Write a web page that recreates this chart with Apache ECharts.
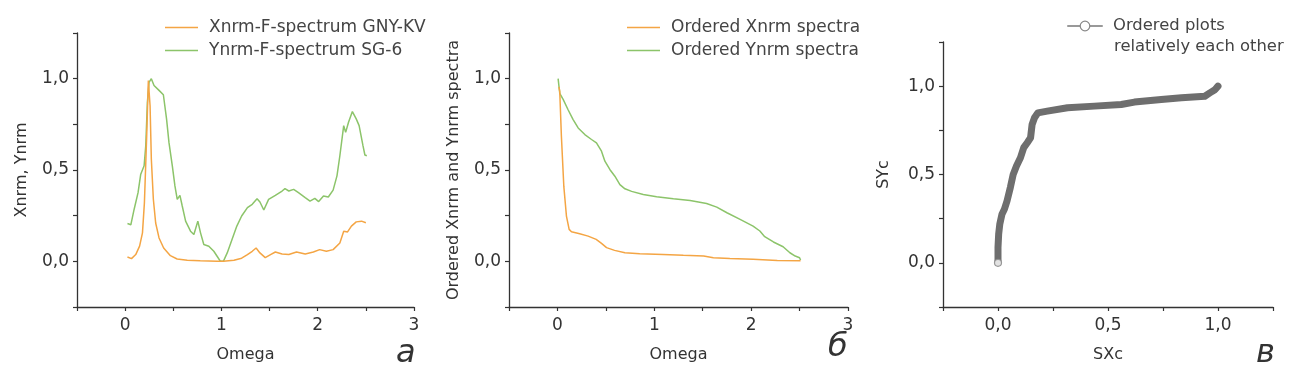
<!DOCTYPE html>
<html><head><meta charset="utf-8">
<script src="https://cdn.jsdelivr.net/npm/echarts@6/dist/echarts.min.js"></script>
<style>html,body{margin:0;padding:0;background:#fff}#c{width:1300px;height:384px}</style>
</head><body><div id="c"></div>
<script>
// Panel a: raw spectra (Omega, value)
const xnrmRaw = [[0.024,0.024],[0.066,0.015],[0.11,0.037],[0.15,0.083],[0.18,0.156],[0.20,0.32],[0.224,0.69],[0.241,0.99],[0.252,1.0],[0.259,0.85],[0.272,0.56],[0.293,0.34],[0.317,0.21],[0.352,0.128],[0.40,0.073],[0.47,0.031],[0.54,0.013],[0.645,0.006],[0.78,0.003],[0.955,0.0],[1.02,0.0],[1.13,0.006],[1.21,0.017],[1.27,0.037],[1.32,0.055],[1.36,0.073],[1.40,0.046],[1.455,0.02],[1.51,0.037],[1.56,0.051],[1.63,0.04],[1.70,0.037],[1.78,0.051],[1.87,0.04],[1.955,0.051],[2.02,0.064],[2.09,0.055],[2.16,0.064],[2.23,0.10],[2.27,0.165],[2.31,0.161],[2.35,0.193],[2.40,0.216],[2.455,0.22],[2.50,0.211]];
const ynrmRaw = [[0.024,0.207],[0.059,0.20],[0.093,0.284],[0.134,0.376],[0.162,0.477],[0.197,0.523],[0.214,0.633],[0.231,0.87],[0.248,0.98],[0.272,1.0],[0.30,0.963],[0.352,0.936],[0.397,0.912],[0.43,0.78],[0.455,0.651],[0.49,0.523],[0.517,0.413],[0.541,0.339],[0.569,0.361],[0.593,0.303],[0.628,0.22],[0.679,0.165],[0.714,0.147],[0.755,0.22],[0.783,0.156],[0.817,0.092],[0.869,0.083],[0.921,0.055],[0.955,0.028],[0.99,0.0],[1.02,0.0],[1.06,0.046],[1.11,0.119],[1.16,0.193],[1.21,0.248],[1.27,0.294],[1.32,0.312],[1.37,0.343],[1.40,0.325],[1.44,0.281],[1.49,0.339],[1.56,0.361],[1.63,0.385],[1.66,0.398],[1.70,0.385],[1.75,0.394],[1.80,0.376],[1.87,0.349],[1.92,0.33],[1.97,0.345],[2.01,0.327],[2.06,0.358],[2.11,0.352],[2.16,0.39],[2.20,0.468],[2.23,0.578],[2.27,0.743],[2.29,0.706],[2.32,0.761],[2.36,0.82],[2.40,0.78],[2.43,0.743],[2.47,0.633],[2.49,0.582],[2.51,0.578]];
// Panel б: ordered spectra
const xnrmOrdered = [[0.016,0.955],[0.024,0.93],[0.041,0.685],[0.066,0.41],[0.093,0.248],[0.121,0.175],[0.145,0.162],[0.23,0.151],[0.317,0.138],[0.40,0.12],[0.455,0.098],[0.507,0.075],[0.59,0.06],[0.697,0.047],[0.85,0.042],[1.09,0.038],[1.30,0.033],[1.51,0.029],[1.61,0.02],[1.78,0.015],[2.02,0.011],[2.27,0.005],[2.51,0.003]];
const ynrmOrdered = [[0.007,1.0],[0.024,0.92],[0.059,0.887],[0.11,0.83],[0.162,0.776],[0.214,0.73],[0.283,0.694],[0.352,0.667],[0.403,0.648],[0.455,0.603],[0.49,0.548],[0.541,0.503],[0.593,0.466],[0.645,0.42],[0.697,0.397],[0.766,0.383],[0.886,0.366],[1.024,0.353],[1.197,0.342],[1.37,0.333],[1.54,0.317],[1.645,0.297],[1.75,0.266],[1.886,0.23],[2.02,0.193],[2.09,0.166],[2.14,0.135],[2.23,0.106],[2.33,0.08],[2.40,0.047],[2.455,0.029],[2.50,0.02],[2.51,0.007]];
// Panel в: ordered plots relative to each other (SXc, SYc)
const sxsy = [[0,0],[0,0.087],[0.003,0.162],[0.008,0.218],[0.018,0.275],[0.029,0.303],[0.041,0.35],[0.056,0.426],[0.069,0.50],[0.084,0.548],[0.102,0.595],[0.117,0.652],[0.133,0.68],[0.148,0.708],[0.155,0.783],[0.166,0.821],[0.181,0.849],[0.224,0.859],[0.316,0.878],[0.438,0.887],[0.56,0.896],[0.62,0.91],[0.742,0.924],[0.834,0.934],[0.94,0.943],[0.963,0.962],[0.986,0.98],[1.0,1.0]];
const omegaTicks = [0,1,2,3];
const valueTicks = [0,0.5,1];
const panelLetters = ['а','б','в'];
const legendLine2 = 'relatively each other';

const FONT = 'DejaVu Sans';
const AX = '#333';
const ORANGE = '#f4a544';
const GREEN = '#8cc46a';
const GREY = '#6e6e6e';

function fmtVal(v){
  for (const t of valueTicks) if (Math.abs(v-t)<1e-9) return t.toFixed(1).replace('.',',');
  return '';
}
function fmtOmega(v){
  for (const t of omegaTicks) if (Math.abs(v-t)<1e-9) return String(t);
  return '';
}
function axisBase(){
  return {
    axisLine:{show:true,onZero:false,lineStyle:{color:AX,width:1.3}},
    axisTick:{show:true,length:4,lineStyle:{color:AX,width:1.2}},
    splitLine:{show:false},
    nameTextStyle:{color:'#333',fontFamily:FONT,fontSize:16},
    nameLocation:'middle'
  };
}
const lbl = (fmt,margin)=>({color:'#333',fontFamily:FONT,fontSize:17,margin:margin,formatter:fmt});
function xOmega(gi){
  return Object.assign(axisBase(),{type:'value',gridIndex:gi,min:-0.5,max:3,interval:0.5,name:'Omega',nameGap:40,
    axisLabel:lbl(fmtOmega,10)});
}
function yVal(gi,name,gap){
  return Object.assign(axisBase(),{type:'value',gridIndex:gi,min:-0.25,max:1.25,interval:0.25,name:name,nameGap:gap,
    axisLabel:lbl(fmtVal,8)});
}
const chart = echarts.init(document.getElementById('c'),null,{renderer:'canvas'});
const legendText = {color:'#444',fontFamily:FONT,fontSize:17,padding:[0,0,0,6]};
const legendText3 = {color:'#444',fontFamily:FONT,fontSize:16.4,padding:[0,0,0,6]};
chart.setOption({
  animation:false,
  backgroundColor:'#fff',
  grid:[
    {left:77,width:337,top:33,height:274},
    {left:509,width:339,top:33,height:274},
    {left:943,width:330,top:42,height:265}
  ],
  xAxis:[
    xOmega(0), xOmega(1),
    Object.assign(axisBase(),{type:'value',gridIndex:2,min:-0.25,max:1.25,interval:0.25,name:'SXc',nameGap:40,
      axisLabel:lbl(fmtVal,10)})
  ],
  yAxis:[
    yVal(0,'Xnrm, Ynrm',47),
    yVal(1,'Ordered Xnrm and Ynrm spectra',47),
    yVal(2,'SYc',51)
  ],
  legend:[
    {orient:'vertical',left:160,top:14,icon:'rect',itemWidth:33,itemHeight:1.6,itemGap:6,textStyle:legendText,
      data:['Xnrm-F-spectrum GNY-KV','Ynrm-F-spectrum SG-6']},
    {orient:'vertical',left:622,top:14,icon:'rect',itemWidth:33,itemHeight:1.6,itemGap:6,textStyle:legendText,
      data:['Ordered Xnrm spectra','Ordered Ynrm spectra']},
    {orient:'vertical',left:1062,top:13,itemWidth:34,itemHeight:12,itemGap:10,textStyle:legendText3,
      lineStyle:{width:2,color:'#999'},itemStyle:{color:'#fff',borderColor:'#888',borderWidth:1.2},
      formatter:function(n){return 'Ordered plots';},
      data:['Ordered plots relatively each other']}
  ],
  series:[
    {name:'Xnrm-F-spectrum GNY-KV',type:'line',xAxisIndex:0,yAxisIndex:0,data:xnrmRaw,symbol:'none',color:ORANGE,lineStyle:{width:1.5,color:ORANGE},z:3},
    {name:'Ynrm-F-spectrum SG-6',type:'line',xAxisIndex:0,yAxisIndex:0,data:ynrmRaw,symbol:'none',color:GREEN,lineStyle:{width:1.5,color:GREEN},z:2},
    {name:'Ordered Xnrm spectra',type:'line',xAxisIndex:1,yAxisIndex:1,data:xnrmOrdered,symbol:'none',color:ORANGE,lineStyle:{width:1.5,color:ORANGE},z:3},
    {name:'Ordered Ynrm spectra',type:'line',xAxisIndex:1,yAxisIndex:1,data:ynrmOrdered,symbol:'none',color:GREEN,lineStyle:{width:1.5,color:GREEN},z:2},
    {name:'Ordered plots relatively each other',type:'line',xAxisIndex:2,yAxisIndex:2,data:sxsy,symbol:'circle',symbolSize:6,showSymbol:false,
      color:GREY,lineStyle:{width:7,color:GREY,cap:'round',join:'round'},z:2},
    {name:'start',type:'scatter',xAxisIndex:2,yAxisIndex:2,data:[sxsy[0]],symbol:'circle',symbolSize:7,
      itemStyle:{color:'#fff',borderColor:'#888',borderWidth:1.2},z:5}
  ],
  graphic:[
    {type:'text',left:1114,top:39,style:{text:legendLine2,font:'16.4px '+FONT,fill:'#444'}},
    {type:'text',left:396,top:338,style:{text:panelLetters[0],font:'italic 32px '+FONT,fill:'#333'}},
    {type:'text',left:828,top:332,style:{text:panelLetters[1],font:'italic 32px '+FONT,fill:'#333'}},
    {type:'text',left:1256,top:338,style:{text:panelLetters[2],font:'italic 32px '+FONT,fill:'#333'}}
  ]
});
</script></body></html>
